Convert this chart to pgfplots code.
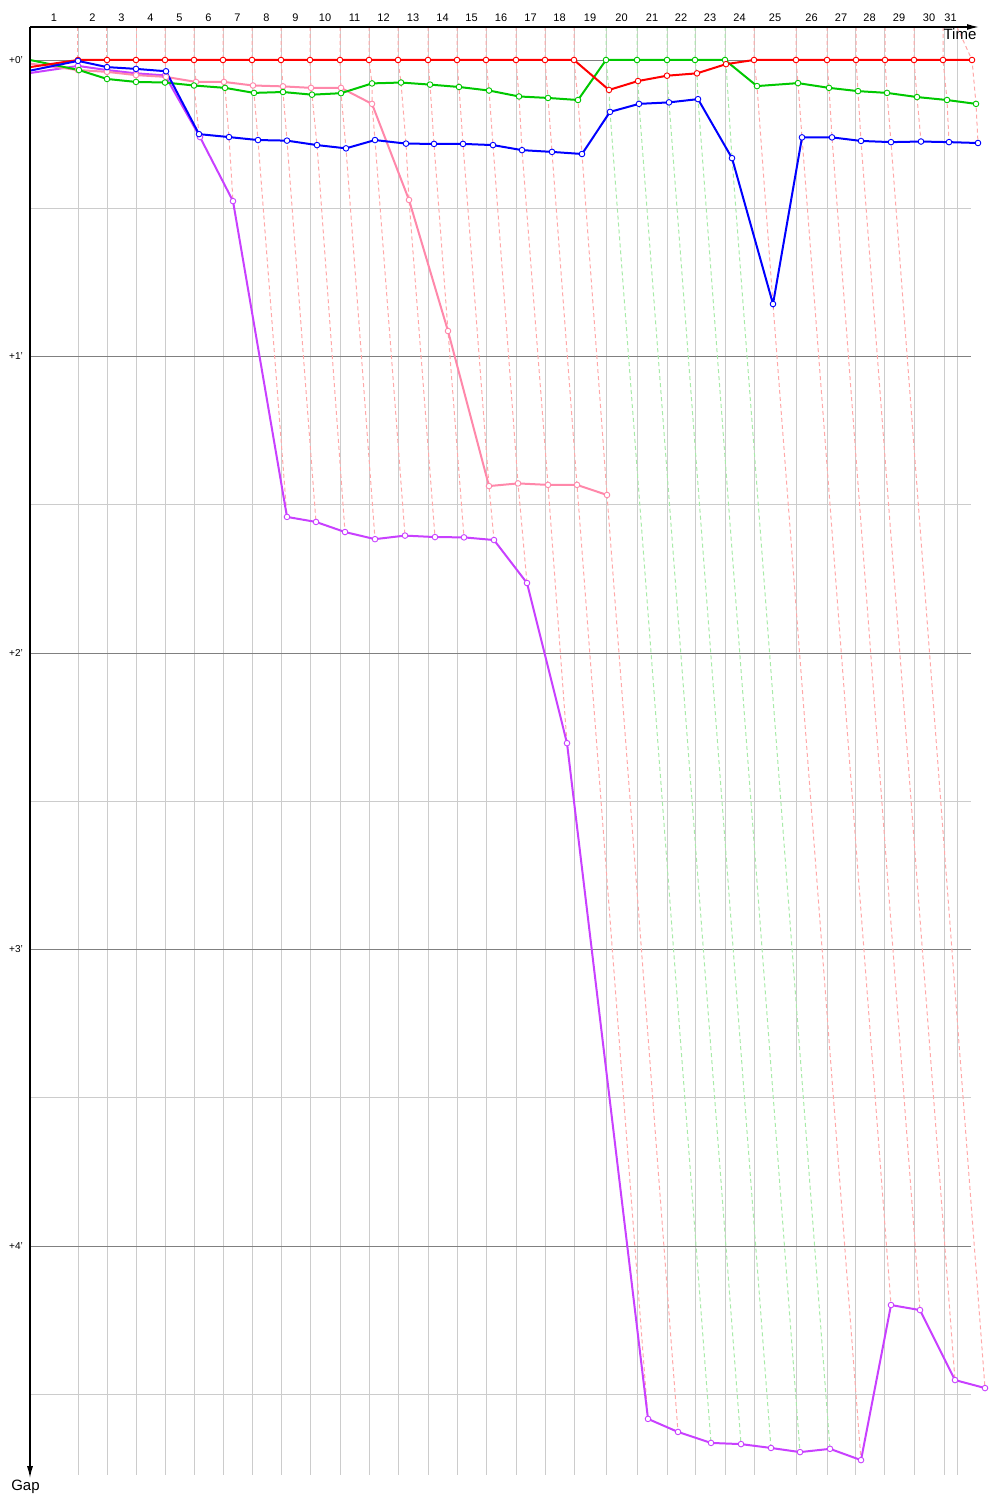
\documentclass[border=0pt]{standalone}
\usepackage{pgfplots}
\pgfplotsset{compat=1.18}
\usepackage{fontspec}
\setmainfont{Liberation Sans}
\usetikzlibrary{arrows.meta}
\definecolor{cred}{HTML}{FF0000}
\definecolor{cgreen}{HTML}{00C800}
\definecolor{cblue}{HTML}{0000FF}
\definecolor{cpink}{HTML}{FF88AA}
\definecolor{cmag}{HTML}{C840FF}
\definecolor{dpink}{HTML}{FFA8A8}
\definecolor{dgreen}{HTML}{A8EAA8}
\definecolor{gridlight}{HTML}{CCCCCC}
\definecolor{gridmajor}{HTML}{808080}
\begin{document}
\begin{tikzpicture}
\path[use as bounding box] (-30pt,-25pt) rectangle (970pt,1475pt);
\begin{axis}[
  at={(470.5pt,724pt)}, anchor=center,
  scale only axis, width=941pt, height=1448pt,
  xmin=30, xmax=971, ymin=-0.1113, ymax=4.7723,
  y dir=reverse, clip=false,
  axis line style={draw=none},
  xtick={78,107,136,165,194,223,252,281,310,340,369,398,428,457,486,516,545,574,606,637,667,695,725,754,796,827,855,884,914,944,957},
  xticklabels={},
  xmajorgrids,
  ytick={0.5,1.5,2.5,3.5,4.5},
  yticklabels={},
  ymajorgrids,
  extra y ticks={0,1,2,3,4},
  extra y tick labels={{+0'},{+1'},{+2'},{+3'},{+4'}},
  extra y tick style={major grid style={gridmajor, line width=0.8pt}},
  major grid style={gridlight, line width=0.8pt},
  major tick length=0pt, minor tick length=0pt,
  yticklabel style={font=\fontsize{10}{11}\selectfont, inner sep=0pt, xshift=-7pt},
  dashl/.style={dpink, line width=1pt, dash pattern=on 4pt off 3pt, forget plot},
  dashg/.style={dgreen, line width=1pt, dash pattern=on 4pt off 3pt, forget plot},
  ser/.style={color=#1, line width=2pt, mark=*, mark phase=2, mark repeat=1, mark size=2.8pt,
    mark options={fill=white, draw=#1, line width=0.9pt, solid}},
]
% lap connection lines
\addplot[dashl] coordinates {(78,-0.1113) (78,0) (78,0.003) (78,0.020) (78,0.034) (79,0.034)};
\addplot[dashl] coordinates {(107,-0.1113) (107,0) (107,0.024) (107,0.034) (107,0.040) (107,0.064)};
\addplot[dashl] coordinates {(136,-0.1113) (136,0) (136,0.030) (136,0.045) (136,0.051) (136,0.074)};
\addplot[dashl] coordinates {(165,-0.1113) (165,0) (166,0.038) (165,0.052) (166,0.057) (165,0.076)};
\addplot[dashl] coordinates {(194,-0.1113) (194,0) (196,0.074) (194,0.086) (199,0.250) (200,0.260)};
\addplot[dashl] coordinates {(223,-0.1113) (223,0) (224,0.074) (225,0.094) (229,0.260) (233,0.476)};
\addplot[dashl] coordinates {(252,-0.1113) (252,0) (253,0.086) (254,0.111) (258,0.270) (287,1.541)};
\addplot[dashl] coordinates {(281,-0.1113) (281,0) (283,0.089) (283,0.108) (287,0.272) (316,1.558)};
\addplot[dashl] coordinates {(310,-0.1113) (310,0) (311,0.094) (312,0.117) (317,0.287) (345,1.592)};
\addplot[dashl] coordinates {(340,-0.1113) (340,0) (341,0.094) (341,0.112) (346,0.298) (375,1.616)};
\addplot[dashl] coordinates {(369,-0.1113) (369,0) (372,0.079) (372,0.148) (375,0.270) (405,1.604)};
\addplot[dashl] coordinates {(398,-0.1113) (398,0) (401,0.076) (406,0.282) (409,0.472) (435,1.609)};
\addplot[dashl] coordinates {(428,-0.1113) (428,0) (430,0.083) (434,0.283) (448,0.914) (464,1.610)};
\addplot[dashl] coordinates {(457,-0.1113) (457,0) (459,0.091) (463,0.283) (489,1.437) (494,1.619)};
\addplot[dashl] coordinates {(486,-0.1113) (486,0) (489,0.103) (493,0.287) (518,1.428) (527,1.764)};
\addplot[dashl] coordinates {(516,-0.1113) (516,0) (519,0.123) (522,0.304) (548,1.433) (567,2.304)};
\addplot[dashl] coordinates {(545,-0.1113) (545,0) (548,0.128) (552,0.310) (577,1.433) (648,4.583)};
\addplot[dashl] coordinates {(574,-0.1113) (574,0) (578,0.135) (582,0.317) (607,1.467) (678,4.627)};
\addplot[dashg] coordinates {(606,-0.1113) (606,0) (609,0.101) (610,0.175) (711,4.664)};
\addplot[dashg] coordinates {(637,-0.1113) (637,0) (638,0.071) (639,0.148) (741,4.668)};
\addplot[dashg] coordinates {(667,-0.1113) (667,0) (667,0.053) (669,0.143) (771,4.681)};
\addplot[dashg] coordinates {(695,-0.1113) (695,0) (697,0.045) (698,0.132) (800,4.695)};
\addplot[dashg] coordinates {(725,-0.1113) (725,0) (726,0.014) (732,0.331) (830,4.684)};
\addplot[dashl] coordinates {(754,-0.1113) (754,0) (757,0.088) (773,0.823) (861,4.722)};
\addplot[dashl] coordinates {(796,-0.1113) (796,0) (798,0.078) (802,0.261) (891,4.199)};
\addplot[dashl] coordinates {(827,-0.1113) (827,0) (829,0.094) (832,0.261) (920,4.216)};
\addplot[dashl] coordinates {(856,-0.1113) (856,0) (858,0.105) (861,0.273) (955,4.452)};
\addplot[dashl] coordinates {(885,-0.1113) (885,0) (887,0.111) (891,0.277) (985,4.479)};
\addplot[dashl] coordinates {(914,-0.1113) (914,0) (917,0.125) (921,0.275)};
\addplot[dashl] coordinates {(943,-0.1113) (943,0) (947,0.135) (949,0.277)};
\addplot[dashl] coordinates {(957,-0.1113) (972,0) (976,0.148) (978,0.280)};
% drivers
\addplot[ser=cmag] coordinates {(30,0.044) (78,0.020) (107,0.034) (136,0.045) (165,0.052) (200,0.260) (233,0.476) (287,1.541) (316,1.558) (345,1.592) (375,1.616) (405,1.604) (435,1.609) (464,1.610) (494,1.619) (527,1.764) (567,2.304) (648,4.583) (678,4.627) (711,4.664) (741,4.668) (771,4.681) (800,4.695) (830,4.684) (861,4.722) (891,4.199) (920,4.216) (955,4.452) (985,4.479)};
\addplot[ser=cpink] coordinates {(30,0.012) (78,0.034) (107,0.040) (136,0.051) (166,0.057) (196,0.074) (224,0.074) (253,0.086) (283,0.089) (311,0.094) (341,0.094) (372,0.148) (409,0.472) (448,0.914) (489,1.437) (518,1.428) (548,1.433) (577,1.433) (607,1.467)};
\addplot[ser=cgreen] coordinates {(30,0) (79,0.034) (107,0.064) (136,0.074) (165,0.076) (194,0.086) (225,0.094) (254,0.111) (283,0.108) (312,0.117) (341,0.112) (372,0.079) (401,0.076) (430,0.083) (459,0.091) (489,0.103) (519,0.123) (548,0.128) (578,0.135) (606,0) (637,0) (667,0) (695,0) (725,0) (757,0.088) (798,0.078) (829,0.094) (858,0.105) (887,0.111) (917,0.125) (947,0.135) (976,0.148)};
\addplot[ser=cred] coordinates {(30,0.024) (78,0) (107,0) (136,0) (165,0) (194,0) (223,0) (252,0) (281,0) (310,0) (340,0) (369,0) (398,0) (428,0) (457,0) (486,0) (516,0) (545,0) (574,0) (609,0.101) (638,0.071) (667,0.053) (697,0.045) (726,0.014) (754,0) (796,0) (827,0) (856,0) (885,0) (914,0) (943,0) (972,0)};
\addplot[ser=cblue] coordinates {(30,0.036) (78,0.003) (107,0.024) (136,0.030) (166,0.038) (199,0.250) (229,0.260) (258,0.270) (287,0.272) (317,0.287) (346,0.298) (375,0.270) (406,0.282) (434,0.283) (463,0.283) (493,0.287) (522,0.304) (552,0.310) (582,0.317) (610,0.175) (639,0.148) (669,0.143) (698,0.132) (732,0.331) (773,0.823) (802,0.261) (832,0.261) (861,0.273) (891,0.277) (921,0.275) (949,0.277) (978,0.280)};
% axes arrows
\draw[black, line width=1.4pt, -{Latex[length=12pt,width=6pt]}] (axis cs:30,-0.1113) -- (axis cs:979,-0.1113);
\draw[black, line width=1.4pt, -{Latex[length=12pt,width=6pt]}] (axis cs:30,-0.1113) -- (axis cs:30,4.783);
\node[anchor=north, inner sep=0pt, font=\fontsize{15}{16}\selectfont] at (axis cs:960,-0.105) {Time};
\node[anchor=north, inner sep=0pt, font=\fontsize{15}{16}\selectfont] at (axis cs:25.5,4.788) {Gap};
% lap labels
\begin{scope}[every node/.style={anchor=south, inner sep=0pt, yshift=5pt, font=\fontsize{11}{12}\selectfont}]
\node at (axis cs:54,-0.1113) {1};
\node at (axis cs:92.5,-0.1113) {2};
\node at (axis cs:121.5,-0.1113) {3};
\node at (axis cs:150.5,-0.1113) {4};
\node at (axis cs:179.5,-0.1113) {5};
\node at (axis cs:208.5,-0.1113) {6};
\node at (axis cs:237.5,-0.1113) {7};
\node at (axis cs:266.5,-0.1113) {8};
\node at (axis cs:295.5,-0.1113) {9};
\node at (axis cs:325,-0.1113) {10};
\node at (axis cs:354.5,-0.1113) {11};
\node at (axis cs:383.5,-0.1113) {12};
\node at (axis cs:413,-0.1113) {13};
\node at (axis cs:442.5,-0.1113) {14};
\node at (axis cs:471.5,-0.1113) {15};
\node at (axis cs:501,-0.1113) {16};
\node at (axis cs:530.5,-0.1113) {17};
\node at (axis cs:559.5,-0.1113) {18};
\node at (axis cs:590,-0.1113) {19};
\node at (axis cs:621.5,-0.1113) {20};
\node at (axis cs:652,-0.1113) {21};
\node at (axis cs:681,-0.1113) {22};
\node at (axis cs:710,-0.1113) {23};
\node at (axis cs:739.5,-0.1113) {24};
\node at (axis cs:775,-0.1113) {25};
\node at (axis cs:811.5,-0.1113) {26};
\node at (axis cs:841,-0.1113) {27};
\node at (axis cs:869.5,-0.1113) {28};
\node at (axis cs:899,-0.1113) {29};
\node at (axis cs:929,-0.1113) {30};
\node at (axis cs:950.5,-0.1113) {31};
\end{scope}
\end{axis}
\end{tikzpicture}
\end{document}
